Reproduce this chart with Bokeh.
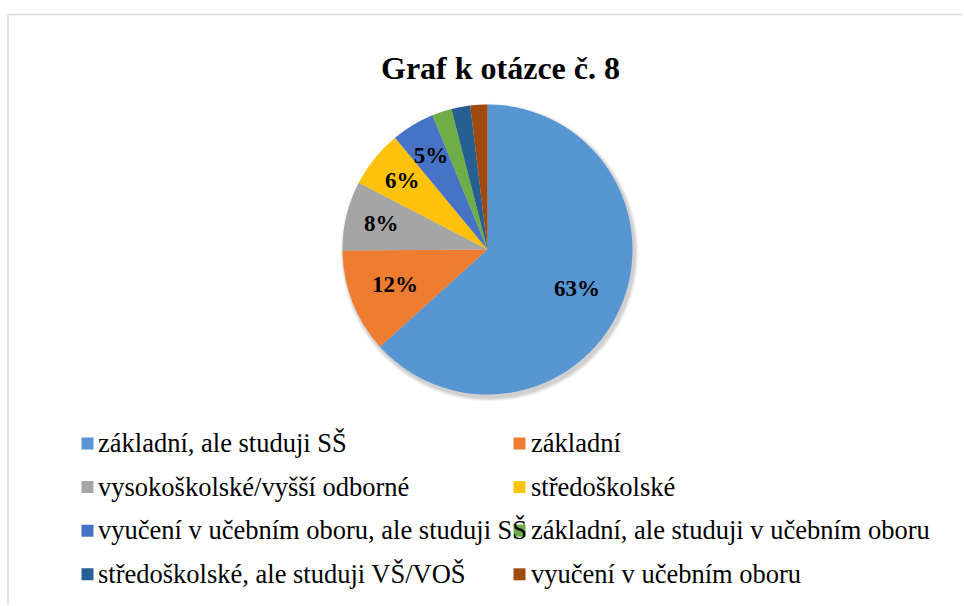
import math
from bokeh.plotting import figure
from bokeh.models import Range1d, ColumnDataSource
from bokeh.core.properties import value
from bokeh.embed import file_html
from bokeh.resources import INLINE

try:
    from bokeh.models import HTMLLabelSet
except ImportError:
    HTMLLabelSet = None

# ---- data ----
title_text = "Graf k otázce č. 8"
categories = [
    "základní, ale studuji SŠ",
    "základní",
    "vysokoškolské/vyšší odborné",
    "středoškolské",
    "vyučení v učebním oboru, ale studuji SŠ",
    "základní, ale studuji v učebním oboru",
    "středoškolské, ale studuji VŠ/VOŠ",
    "vyučení v učebním oboru",
]
shares = [63.3, 11.6, 7.7, 6.4, 4.8, 2.2, 2.1, 1.9]
colors = ["#5796d3", "#ee7d32", "#a5a5a5", "#fec20a", "#4673c6", "#6fae47", "#265f92", "#a04a12"]

# ---- layout helpers (page px -> data units) ----
W, H = 962, 604
def X(px):
    return px
def Y(py):
    return H - py

p = figure(width=W, height=H, output_backend="svg", toolbar_location=None,
           x_range=Range1d(0, W), y_range=Range1d(0, H), min_border=0)
p.axis.visible = False
p.grid.visible = False
p.outline_line_color = None
p.background_fill_color = "white"

# chart frame
p.quad(left=[X(7.5)], right=[X(1000)], top=[Y(14)], bottom=[Y(700)],
       fill_color=None, line_color="#d9d9d9", line_width=1.5)

# title
p.text(x=[X(500)], y=[Y(67)], text=[title_text], text_font=value("Times"),
       text_font_size="32px", text_font_style="bold", text_align="center",
       text_baseline="alphabetic", text_color="black")

# pie
cx, cy, r = X(487), Y(249), 145
for k, a in enumerate([0.05, 0.05, 0.05, 0.04]):
    p.circle(x=[cx + 2], y=[cy - 3], radius=r + 1 + k, fill_color="black",
             fill_alpha=a, line_color=None)

total = sum(shares)
starts, ends, mids = [], [], []
cum = 0.0
for s in shares:
    a0 = math.pi / 2 - 2 * math.pi * cum / total
    cum += s
    a1 = math.pi / 2 - 2 * math.pi * cum / total
    starts.append(a1)
    ends.append(a0)
    mids.append((a0 + a1) / 2)

src = ColumnDataSource(dict(start=starts, end=ends, color=colors, cat=categories))
p.wedge(x=cx, y=cy, radius=r, start_angle="start", end_angle="end",
        direction="anticlock", fill_color="color", line_color=None, source=src)

# data labels (only >= 4.5%)
lx, ly, lt = [], [], []
for s, m in zip(shares, mids):
    if s / total * 100 >= 4.5:
        k = 0.68 if s > 10 else 0.75
        lx.append(cx + k * r * math.cos(m))
        ly.append(cy + k * r * math.sin(m))
        lt.append(f"{round(s / total * 100)}%")
lab_src = ColumnDataSource(dict(x=lx, y=ly, text=lt))

# legend
col_marker_x = [X(87), X(519)]
col_text_x = [X(98), X(531)]
row_y0, row_dy = 443, 43.6
mx, my, tx, ty = [], [], [], []
for i, c in enumerate(categories):
    row, col = divmod(i, 2)
    yy = Y(row_y0 + row * row_dy)
    mx.append(col_marker_x[col]); my.append(yy)
    tx.append(col_text_x[col]); ty.append(yy)
p.rect(x=mx, y=my, width=12, height=12, fill_color=colors, line_color=None)
leg_src = ColumnDataSource(dict(x=tx, y=ty, text=categories))

if HTMLLabelSet is not None:
    p.add_layout(HTMLLabelSet(x="x", y="y", text="text", source=lab_src,
                              text_font=value("Liberation Serif"), text_font_size="23px",
                              text_font_style="bold", text_align="center",
                              text_baseline="middle", text_color="black"))
    p.add_layout(HTMLLabelSet(x="x", y="y", text="text", source=leg_src,
                              text_font=value("Liberation Serif"), text_font_size="26.5px",
                              text_font_style="normal", text_align="left",
                              text_baseline="middle", text_color="black"))
else:
    p.text(x="x", y="y", text="text", source=lab_src, text_font=value("Times"),
           text_font_size="23px", text_font_style="bold", text_align="center",
           text_baseline="middle", text_color="black")
    p.text(x="x", y="y", text="text", source=leg_src, text_font=value("Times"),
           text_font_size="27px", text_align="left", text_baseline="middle",
           text_color="black")

open("out.html", "w").write(file_html(p, INLINE))
